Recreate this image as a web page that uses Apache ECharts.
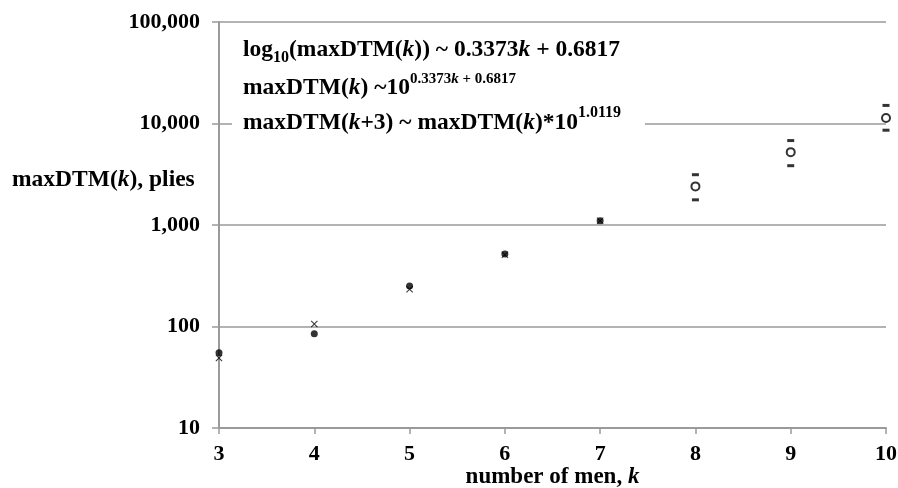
<!DOCTYPE html>
<html><head><meta charset="utf-8">
<script src="https://cdn.jsdelivr.net/npm/echarts@6/dist/echarts.min.js"></script>
<style>html,body{margin:0;padding:0;background:#fff}#c{width:898px;height:488px}</style>
</head><body><div id="c"></div>
<script>
// ---- data ----
const kObserved = [3, 4, 5, 6, 7];
const maxDtmObserved = [55, 85, 250, 517, 1100];
const maxDtmFitted = [49, 106, 233, 508, 1103];
const kPredicted = [8, 9, 10];
const maxDtmPredicted = [2400, 5220, 11340];
const predictedUpper = [3130, 6790, 15070];
const predictedLower = [1770, 3840, 8590];
const xTicks = [3, 4, 5, 6, 7, 8, 9, 10];
const yTicks = [10, 100, 1000, 10000, 100000];

const FONT = '"Liberation Serif","Times New Roman",serif';
const GRAY = '#9a9a9a';
const pairs = (xs, ys) => xs.map((x, i) => [x, ys[i]]);

const chart = echarts.init(document.getElementById('c'));
const bold = {fontFamily: FONT, fontWeight: 'bold', color: '#000'};

chart.setOption({
  animation: false,
  grid: {left: 219, right: 12, top: 22, bottom: 60, containLabel: false, outerBoundsMode: 'none'},
  xAxis: {
    type: 'value', min: xTicks[0], max: xTicks[xTicks.length - 1], interval: 1,
    axisLine: {show: true, lineStyle: {color: GRAY, width: 2}},
    axisTick: {show: true, length: 6, lineStyle: {color: GRAY, width: 1.5}},
    axisLabel: Object.assign({margin: 15, fontSize: 22}, bold),
    splitLine: {show: false},
    name: '{b|number of men, }{i|k}', nameLocation: 'middle', nameGap: 37,
    nameMoveOverlap: false,
    nameTextStyle: {verticalAlign: 'top', rich: {
      b: Object.assign({fontSize: 23, lineHeight: 24}, bold),
      i: Object.assign({fontSize: 23, lineHeight: 24, fontStyle: 'italic'}, bold)
    }}
  },
  yAxis: {
    type: 'log', logBase: 10, min: yTicks[0], max: yTicks[yTicks.length - 1],
    axisLine: {show: true, lineStyle: {color: GRAY, width: 2}},
    axisTick: {show: true, length: 7, lineStyle: {color: GRAY, width: 1.5}},
    axisLabel: Object.assign({margin: 19, fontSize: 22,
      formatter: v => Math.round(v).toLocaleString('en-US')}, bold),
    splitLine: {show: true, lineStyle: {color: GRAY, width: 1.5}},
    minorTick: {show: false}
  },
  series: [
    {type: 'scatter', name: 'fitted', data: pairs(kObserved, maxDtmFitted),
     symbol: 'path://M0,1L1,0L5,4L9,0L10,1L6,5L10,9L9,10L5,6L1,10L0,9L4,5Z',
     symbolSize: 7, itemStyle: {color: '#000'}, z: 3},
    {type: 'scatter', name: 'observed', data: pairs(kObserved, maxDtmObserved),
     symbol: 'circle', symbolSize: 7, itemStyle: {color: '#000'}, z: 4},
    {type: 'scatter', name: 'upper', data: pairs(kPredicted, predictedUpper),
     symbol: 'rect', symbolSize: [7, 3], itemStyle: {color: '#000'}, z: 4},
    {type: 'scatter', name: 'lower', data: pairs(kPredicted, predictedLower),
     symbol: 'rect', symbolSize: [7, 3], itemStyle: {color: '#000'}, z: 4},
    {type: 'scatter', name: 'predicted', data: pairs(kPredicted, maxDtmPredicted),
     symbol: 'emptyCircle', symbolSize: 8,
     itemStyle: {color: '#000', borderColor: '#000', borderWidth: 2}, z: 4}
  ],
  graphic: [
    {type: 'rect', z: 50, shape: {x: 232, y: 31, width: 413, height: 103},
     style: {fill: '#fff'}},
    {type: 'text', z: 51, x: 243, y: 49.5, style: {
      text: '{b|log}{s|10}{b|(maxDTM(}{i|k}{b|)) ~ 0.3373}{i|k}{b| + 0.6817}',
      verticalAlign: 'middle', align: 'left',
      rich: {
        b: Object.assign({fontSize: 23.5, lineHeight: 32, verticalAlign: 'middle'}, bold, {fill: '#000'}),
        i: Object.assign({fontSize: 23.5, lineHeight: 32, verticalAlign: 'middle', fontStyle: 'italic'}, bold, {fill: '#000'}),
        s: Object.assign({fontSize: 16, lineHeight: 17, verticalAlign: 'bottom'}, bold, {fill: '#000'})
      }}},
    {type: 'text', z: 51, x: 243, y: 87.5, style: {
      text: '{b|maxDTM(}{i|k}{b|) ~10}{p|0.3373}{pi|k}{p| + 0.6817}',
      verticalAlign: 'middle', align: 'left',
      rich: {
        b: Object.assign({fontSize: 23.5, lineHeight: 32, verticalAlign: 'middle'}, bold, {fill: '#000'}),
        i: Object.assign({fontSize: 23.5, lineHeight: 32, verticalAlign: 'middle', fontStyle: 'italic'}, bold, {fill: '#000'}),
        p: Object.assign({fontSize: 15, lineHeight: 15, verticalAlign: 'top'}, bold, {fill: '#000'}),
        pi: Object.assign({fontSize: 15, lineHeight: 15, verticalAlign: 'top', fontStyle: 'italic'}, bold, {fill: '#000'})
      }}},
    {type: 'text', z: 51, x: 243, y: 122.5, style: {
      text: '{b|maxDTM(}{i|k}{b|+3) ~ maxDTM(}{i|k}{b|)*10}{p|1.0119}',
      verticalAlign: 'middle', align: 'left',
      rich: {
        b: Object.assign({fontSize: 23.5, lineHeight: 36, verticalAlign: 'middle'}, bold, {fill: '#000'}),
        i: Object.assign({fontSize: 23.5, lineHeight: 36, verticalAlign: 'middle', fontStyle: 'italic'}, bold, {fill: '#000'}),
        p: Object.assign({fontSize: 16, lineHeight: 16, verticalAlign: 'top'}, bold, {fill: '#000'})
      }}},
    {type: 'text', z: 51, x: 12, y: 180, style: {
      text: '{b|maxDTM(}{i|k}{b|), plies}',
      verticalAlign: 'middle', align: 'left',
      rich: {
        b: Object.assign({fontSize: 23.5}, bold, {fill: '#000'}),
        i: Object.assign({fontSize: 23.5, fontStyle: 'italic'}, bold, {fill: '#000'})
      }}}
  ]
});
</script></body></html>
